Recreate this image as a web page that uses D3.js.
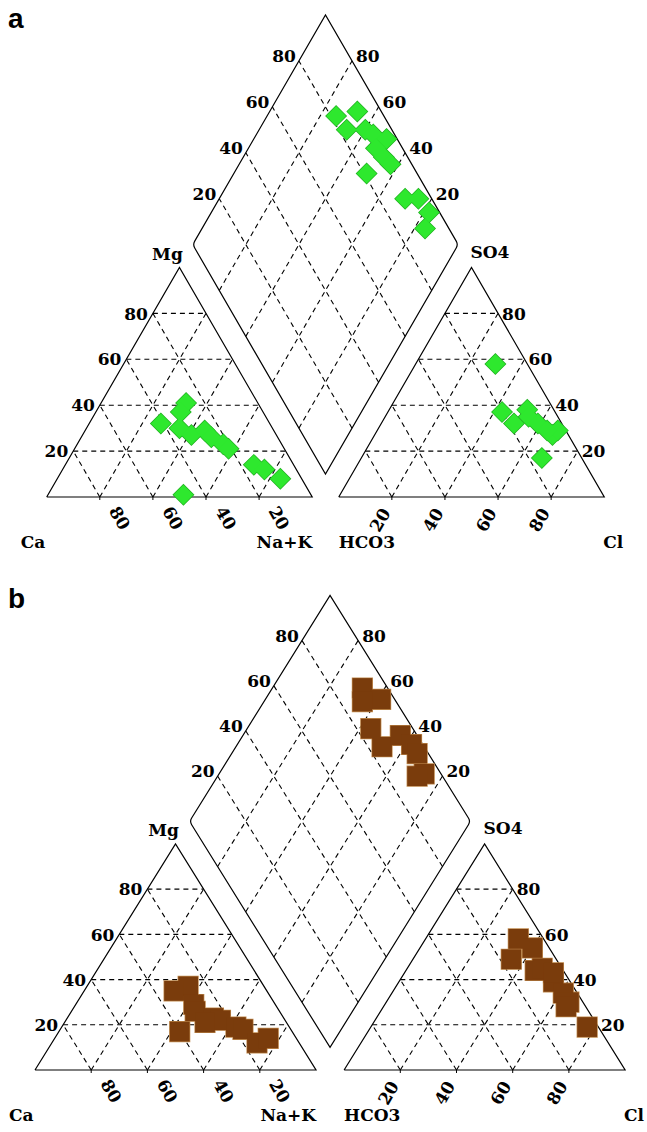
<!DOCTYPE html>
<html>
<head>
<meta charset="utf-8">
<script src="https://cdn.jsdelivr.net/npm/d3@7"></script>
<style>
  body { margin: 0; background: #fff; }
  svg text { font-family: "DejaVu Serif", serif; font-weight: bold; fill: #000; }
</style>
</head>
<body>
<svg id="chart" width="647" height="1132"></svg>
<script>
var GAP = 0.1;
var H = Math.sqrt(3) / 2;
var tickValues = [20, 40, 60, 80];

// panel a - cations (Mg %, Na+K %)
var aCatMg  = [41, 37, 32, 30, 27, 29, 26, 23, 21, 14, 12, 8, 1];
var aCatNaK = [32, 32, 27, 35, 41, 45, 49, 55, 58, 71, 76, 84, 51];
// panel a - anions (SO4 %, Cl %)
var aAnSO4 = [58, 37, 32, 38, 35, 32, 27, 29, 17, 29];
var aAnCl  = [30, 43, 50, 52, 54, 59, 67, 68, 68, 64];
// panel a - diamond (Ca+Mg %, SO4+Cl %)
var aDiaCaMg  = [74, 67, 67, 60, 56, 50, 52, 47, 43, 50, 30, 25, 18, 16];
var aDiaSO4Cl = [82, 91, 83, 90, 92, 96, 90, 91, 92, 81, 90, 95, 96, 91];

// panel b - cations
var bCatMg  = [37, 35, 29, 26, 17, 23, 22, 19, 18, 12, 14, 21];
var bCatNaK = [36, 32, 42, 44, 43, 52, 55, 62, 65, 73, 76, 50];
// panel b - anions
var bAnSO4 = [58, 54, 49, 44, 45, 39, 34, 30, 28, 19, 43];
var bAnCl  = [33, 40, 35, 46, 48, 55, 61, 65, 65, 77, 53];
// panel b - diamond
var bDiaCaMg  = [68, 59, 65, 56, 48, 44, 38, 34, 27, 29];
var bDiaSO4Cl = [91, 95, 88, 85, 85, 94, 96, 96, 94, 91];

var panels = [
    { id: "a", x0: 46.7, unit: 265.5, base: 497, ky: 265,
      cat: [aCatMg, aCatNaK], an: [aAnSO4, aAnCl], dia: [aDiaCaMg, aDiaSO4Cl],
      marker: "diamond", fill: "#2ee82e", stroke: "#22b022", labelY: 28 },
    { id: "b", x0: 35, unit: 281, base: 1070, ky: 261,
      cat: [bCatMg, bCatNaK], an: [bAnSO4, bAnCl], dia: [bDiaCaMg, bDiaSO4Cl],
      marker: "square", fill: "#7a3c0c", stroke: "#c08a4e", labelY: 608 }
];

// ternary -> piper unit coords
var cation = function(mg, nak) { return [nak / 100 + mg / 200, H * mg / 100]; };
var anion = function(so4, cl) { return [1 + GAP + cl / 100 + so4 / 200, H * so4 / 100]; };
var diamond = function(caMg, so4cl) {
    var na = 1 - caMg / 100, c = so4cl / 100;
    return [(na + 1 + GAP + c) / 2, H * (1 + GAP + c - na)];
};

var svg = d3.select("#chart");

panels.forEach(function(p) {
    var x = d3.scaleLinear().domain([0, 2 + GAP]).range([p.x0, p.x0 + (2 + GAP) * p.unit]);
    var y = d3.scaleLinear().domain([0, (2 + GAP) * H]).range([p.base, p.base - (2 + GAP) * H * p.ky]);
    var px = function(pt) { return [x(pt[0]), y(pt[1])]; };
    var g = svg.append("g");

    var segs = [];
    tickValues.forEach(function(k) {
        // left triangle
        segs.push([cation(k, 0), cation(k, 100 - k)]);
        segs.push([cation(0, k), cation(100 - k, k)]);
        segs.push([cation(0, 100 - k), cation(100 - k, 0)]);
        // right triangle
        segs.push([anion(k, 0), anion(k, 100 - k)]);
        segs.push([anion(0, k), anion(100 - k, k)]);
        segs.push([anion(0, 100 - k), anion(100 - k, 0)]);
        // diamond
        segs.push([diamond(0, k), diamond(100, k)]);
        segs.push([diamond(k, 0), diamond(k, 100)]);
    });

    g.selectAll("line.grid")
        .data(segs)
        .enter()
        .append("line")
        .attr("class", "grid")
        .attr("x1", function(d) { return x(d[0][0]); })
        .attr("y1", function(d) { return y(d[0][1]); })
        .attr("x2", function(d) { return x(d[1][0]); })
        .attr("y2", function(d) { return y(d[1][1]); })
        .attr("stroke", "#000")
        .attr("stroke-width", 1.1)
        .attr("stroke-dasharray", "5,4");

    // base ticks
    var baseTicks = [];
    tickValues.forEach(function(k) { baseTicks.push(cation(0, k)); baseTicks.push(anion(0, k)); });
    g.selectAll("line.btick")
        .data(baseTicks)
        .enter()
        .append("line")
        .attr("x1", function(d) { return x(d[0]); })
        .attr("x2", function(d) { return x(d[0]); })
        .attr("y1", y(0))
        .attr("y2", y(0) + 3)
        .attr("stroke", "#000");

    // outlines
    var line = d3.line().x(function(d) { return x(d[0]); }).y(function(d) { return y(d[1]); });
    var triL = [cation(0, 0), cation(0, 100), cation(100, 0), cation(0, 0)];
    var triR = [anion(0, 0), anion(0, 100), anion(100, 0), anion(0, 0)];
    [triL, triR].forEach(function(t) {
        g.append("path").attr("d", line(t)).attr("fill", "none")
            .attr("stroke", "#000").attr("stroke-width", 1.2);
    });

    // diamond with softened side corners
    var dv = [diamond(100, 0), diamond(100, 100), diamond(0, 100), diamond(0, 0)].map(px);
    var r = 4;
    var path = d3.path();
    var cut = function(a, b, dist) {
        var dx = b[0] - a[0], dy = b[1] - a[1], len = Math.sqrt(dx * dx + dy * dy);
        return [a[0] + dx * dist / len, a[1] + dy * dist / len];
    };
    var s0 = cut(dv[0], dv[1], r);
    path.moveTo(s0[0], s0[1]);
    path.lineTo(dv[1][0], dv[1][1]);
    var e2 = cut(dv[2], dv[1], r), s2 = cut(dv[2], dv[3], r);
    path.lineTo(e2[0], e2[1]);
    path.quadraticCurveTo(dv[2][0], dv[2][1], s2[0], s2[1]);
    path.lineTo(dv[3][0], dv[3][1]);
    var e0 = cut(dv[0], dv[3], r);
    path.lineTo(e0[0], e0[1]);
    path.quadraticCurveTo(dv[0][0], dv[0][1], s0[0], s0[1]);
    g.append("path").attr("d", path.toString()).attr("fill", "none")
        .attr("stroke", "#000").attr("stroke-width", 1.2);

    // tick labels
    var fs = 17;
    tickValues.forEach(function(k) {
        var a = px(cation(k, 0));
        g.append("text").text(k).attr("x", a[0] - 5).attr("y", a[1]).attr("dy", "0.36em")
            .attr("text-anchor", "end").style("font-size", fs + "px");
        var b = px(cation(0, 100 - k));
        g.append("text").text(k).attr("text-anchor", "middle").attr("dy", "0.36em")
            .attr("transform", "translate(" + (b[0] + 20) + "," + (b[1] + 21) + ") rotate(60)")
            .style("font-size", fs + "px");
        var c = px(anion(k, 100 - k));
        g.append("text").text(k).attr("x", c[0] + 4).attr("y", c[1]).attr("dy", "0.36em")
            .attr("text-anchor", "start").style("font-size", fs + "px");
        var d = px(anion(0, k));
        g.append("text").text(k).attr("text-anchor", "middle").attr("dy", "0.36em")
            .attr("transform", "translate(" + (d[0] - 12) + "," + (d[1] + 23) + ") rotate(-60)")
            .style("font-size", fs + "px");
        var e = px(diamond(100, k));
        g.append("text").text(k).attr("x", e[0] - 3).attr("y", e[1] + 1)
            .attr("text-anchor", "end").style("font-size", fs + "px");
        var f = px(diamond(k, 100));
        g.append("text").text(k).attr("x", f[0] + 4).attr("y", f[1] + 1)
            .attr("text-anchor", "start").style("font-size", fs + "px");
    });

    // corner labels
    var lc = px(cation(0, 0)), rc = px(cation(0, 100)), ap = px(cation(100, 0));
    var alc = px(anion(0, 0)), arc = px(anion(0, 100)), aap = px(anion(100, 0));
    var corner = [
        ["Ca", lc[0] - 26, lc[1] + 51, "start"],
        ["Na+K", rc[0], rc[1] + 51, "end"],
        ["Mg", ap[0] - 12, ap[1] - 8, "middle"],
        ["HCO3", alc[0], alc[1] + 51, "start"],
        ["Cl", arc[0] - 1, arc[1] + 51, "start"],
        ["SO4", aap[0] - 1, aap[1] - 10, "start"]
    ];
    g.selectAll("text.corner")
        .data(corner)
        .enter()
        .append("text")
        .attr("class", "corner")
        .text(function(d) { return d[0]; })
        .attr("x", function(d) { return d[1]; })
        .attr("y", function(d) { return d[2]; })
        .attr("text-anchor", function(d) { return d[3]; })
        .style("font-size", "17px");

    // samples
    var pts = [];
    p.cat[0].forEach(function(v, i) { pts.push(px(cation(v, p.cat[1][i]))); });
    p.an[0].forEach(function(v, i) { pts.push(px(anion(v, p.an[1][i]))); });
    p.dia[0].forEach(function(v, i) { pts.push(px(diamond(v, p.dia[1][i]))); });

    var sym = p.marker === "diamond" ? d3.symbol().type(d3.symbolSquare).size(200)
                                     : d3.symbol().type(d3.symbolSquare).size(390);
    var place = function(d) {
        return "translate(" + d[0] + "," + d[1] + ")" + (p.marker === "diamond" ? " rotate(45)" : "");
    };
    // outline layer underneath, fills on top so touching marks merge
    g.selectAll("path.sample-edge")
        .data(pts)
        .enter()
        .append("path")
        .attr("class", "sample-edge")
        .attr("d", sym)
        .attr("transform", place)
        .attr("fill", p.stroke)
        .attr("stroke", p.stroke)
        .attr("stroke-width", 1.4);
    g.selectAll("path.sample")
        .data(pts)
        .enter()
        .append("path")
        .attr("class", "sample")
        .attr("d", sym)
        .attr("transform", place)
        .attr("fill", p.fill);

    svg.append("text")
        .text(p.id)
        .attr("x", 8)
        .attr("y", p.labelY)
        .style("font-size", "28px")
        .style("font-family", "Liberation Sans, Arial, sans-serif");
});
</script>
</body>
</html>
